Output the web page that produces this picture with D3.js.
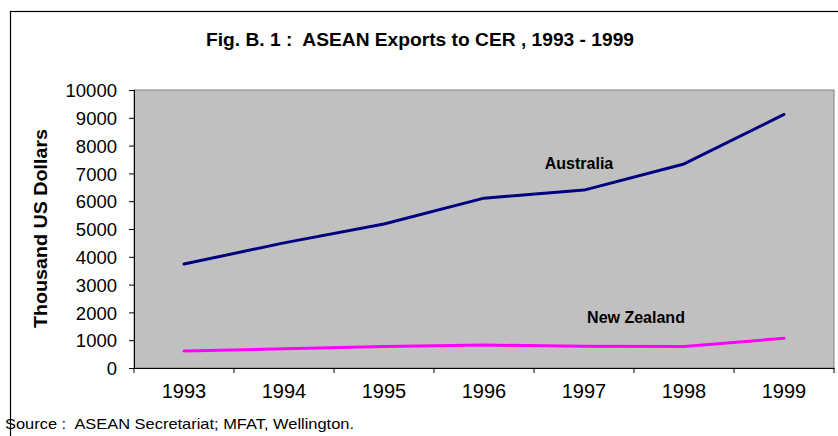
<!DOCTYPE html>
<html>
<head>
<meta charset="utf-8">
<script src="https://cdn.jsdelivr.net/npm/d3@7"></script>
<style>
  body { margin: 0; background: #fff; }
  svg text { font-family: "Liberation Sans", Arial, sans-serif; fill: #000; }
</style>
</head>
<body>
<div id="forSvg"></div>
<script>
// chart data
var years = ["1993", "1994", "1995", "1996", "1997", "1998", "1999"];
var australia = [3740, 4500, 5180, 6110, 6400, 7340, 9120];
var newZealand = [610, 690, 770, 825, 780, 770, 1070];
var yTicks = [0, 1000, 2000, 3000, 4000, 5000, 6000, 7000, 8000, 9000, 10000];

var width = 838, height = 436;
var plotLeft = 134, plotRight = 834, plotTop = 90, plotBottom = 368;

var svg = d3.select("#forSvg").append("svg")
	.attr("width", width)
	.attr("height", height);

// outer frame, runs off the right and bottom
svg.append("rect")
	.attr("x", 10.5).attr("y", 11.5)
	.attr("width", 900).attr("height", 500)
	.attr("fill", "#fff")
	.attr("stroke", "#000")
	.attr("stroke-width", 1.2);

var x = d3.scaleBand().domain(years).range([plotLeft, plotRight]);
var y = d3.scaleLinear().domain([0, 10000]).range([plotBottom, plotTop]);

// plot area
svg.append("rect")
	.attr("x", plotLeft).attr("y", plotTop)
	.attr("width", plotRight - plotLeft).attr("height", plotBottom - plotTop)
	.attr("fill", "#c0c0c0")
	.attr("stroke", "#808080")
	.attr("stroke-width", 1);

// y axis
var yAxis = svg.append("g")
	.attr("transform", "translate(" + plotLeft + ",0)")
	.call(d3.axisLeft(y).tickValues(yTicks).tickSize(5).tickPadding(12).tickFormat(d3.format("d")));
yAxis.select(".domain").attr("stroke", "#000");
yAxis.selectAll("line").attr("stroke", "#000");
yAxis.selectAll("text").style("font-size", "18.5px").attr("dy", "0.36em");

// x axis: labels centered, ticks between categories
var xAxis = svg.append("g")
	.attr("transform", "translate(0," + plotBottom + ")")
	.call(d3.axisBottom(x).tickSize(0).tickPadding(16));
xAxis.select(".domain").attr("stroke", "#000");
xAxis.selectAll("text").style("font-size", "20px");

var edges = years.map(function(d) { return x(d); }).concat([plotRight]);
svg.selectAll(".xtick")
	.data(edges)
	.enter().append("line")
	.attr("class", "xtick")
	.attr("x1", function(d) { return d; })
	.attr("x2", function(d) { return d; })
	.attr("y1", plotBottom)
	.attr("y2", plotBottom + 5)
	.attr("stroke", "#000");

// lines
var line = d3.line()
	.x(function(d, i) { return x(years[i]) + x.bandwidth() / 2; })
	.y(function(d) { return y(d); });

svg.append("path")
	.datum(australia)
	.attr("d", line)
	.attr("fill", "none")
	.attr("stroke", "#000080")
	.attr("stroke-width", 3)
	.attr("stroke-linejoin", "round")
	.attr("stroke-linecap", "round");

svg.append("path")
	.datum(newZealand)
	.attr("d", line)
	.attr("fill", "none")
	.attr("stroke", "#ff00ff")
	.attr("stroke-width", 3)
	.attr("stroke-linejoin", "round")
	.attr("stroke-linecap", "round");

// series labels
svg.append("text")
	.attr("x", 579).attr("y", 169)
	.attr("text-anchor", "middle")
	.style("font-size", "16px").style("font-weight", "bold")
	.text("Australia");

svg.append("text")
	.attr("x", 636).attr("y", 323)
	.attr("text-anchor", "middle")
	.style("font-size", "16px").style("font-weight", "bold")
	.text("New Zealand");

// title
svg.append("text")
	.attr("x", 206).attr("y", 46)
	.attr("xml:space", "preserve")
	.attr("textLength", 428)
	.attr("lengthAdjust", "spacingAndGlyphs")
	.style("font-size", "17.5px").style("font-weight", "bold")
	.text("Fig. B. 1 :  ASEAN Exports to CER , 1993 - 1999");

// y axis title
svg.append("text")
	.attr("transform", "translate(47,328) rotate(-90)")
	.attr("textLength", 199)
	.attr("lengthAdjust", "spacingAndGlyphs")
	.style("font-size", "18px").style("font-weight", "bold")
	.text("Thousand US Dollars");

// source
svg.append("text")
	.attr("x", 5).attr("y", 429)
	.attr("xml:space", "preserve")
	.attr("textLength", 349)
	.attr("lengthAdjust", "spacingAndGlyphs")
	.style("font-size", "15px")
	.text("Source :  ASEAN Secretariat; MFAT, Wellington.");
</script>
</body>
</html>
